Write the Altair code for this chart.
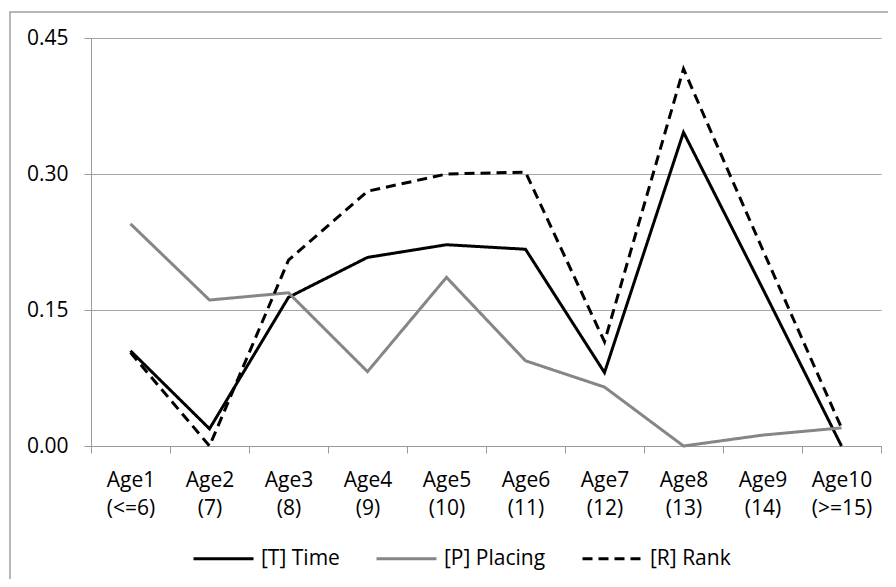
import altair as alt
import pandas as pd

categories = ["Age1 (<=6)", "Age2 (7)", "Age3 (8)", "Age4 (9)", "Age5 (10)",
              "Age6 (11)", "Age7 (12)", "Age8 (13)", "Age9 (14)", "Age10 (>=15)"]
series_names = ["[T] Time", "[P] Placing", "[R] Rank"]
time_vals = [0.105, 0.019, 0.164, 0.208, 0.222, 0.217, 0.081, 0.346, 0.174, 0.0]
placing_vals = [0.245, 0.161, 0.169, 0.082, 0.186, 0.094, 0.065, 0.0, 0.012, 0.020]
rank_vals = [0.103, 0.0, 0.205, 0.281, 0.300, 0.302, 0.115, 0.416, 0.217, 0.020]

rows = []
for name, vals in zip(series_names, [time_vals, placing_vals, rank_vals]):
    for c, v in zip(categories, vals):
        rows.append({"cat": c, "series": name, "value": v})
df = pd.DataFrame(rows)

legend = alt.Legend(
    title=None, orient="none", legendX=101, legendY=489, direction="horizontal",
    symbolType="stroke", symbolSize=3600, symbolStrokeWidth=3,
    labelFontSize=21, labelColor="black", labelOffset=6, columnPadding=30,
    labelFont="Open Sans",
)

lines = alt.Chart(df).mark_line(strokeWidth=3, strokeJoin="miter").encode(
    x=alt.X("cat:N", sort=categories, title=None,
            scale=alt.Scale(paddingInner=0, paddingOuter=0),
            axis=alt.Axis(labelExpr="split(datum.label, ' ')", labelAngle=0,
                          tickBand="extent", tickSize=7, tickColor="#999999",
                          domainColor="#999999", labelFontSize=21, labelColor="black",
                          labelPadding=16, labelLineHeight=28, grid=False,
                          labelBaseline="top")),
    y=alt.Y("value:Q", title=None,
            scale=alt.Scale(domain=[0, 0.45], nice=False),
            axis=alt.Axis(values=[0, 0.15, 0.30, 0.45], format=".2f",
                          tickSize=7, tickColor="#999999", domainColor="#999999",
                          gridColor="#a6a6a6", labelFontSize=21, labelColor="black",
                          labelPadding=16)),
    color=alt.Color("series:N", scale=alt.Scale(domain=series_names,
                    range=["#000000", "#868686", "#000000"]), legend=legend),
    strokeDash=alt.StrokeDash("series:N", scale=alt.Scale(domain=series_names,
                    range=[[1, 0], [1, 0], [10, 6]]), legend=legend),
    order=alt.Order("series:N"),
)

border = alt.Chart(alt.Data(values=[{"a": 1}])).mark_rect(
    fill=None, stroke="#a0a0a0", strokeWidth=1.5, clip=False
).encode(
    x=alt.value(-81), x2=alt.value(830), y=alt.value(-26), y2=alt.value(560)
)

chart = alt.layer(border, lines).properties(
    width=790, height=408,
    autosize=alt.AutoSizeParams(type="none"),
    padding={"left": 83, "top": 30, "right": 7, "bottom": 133},
).configure(font="Open Sans").configure_view(stroke=None)

chart.save("out.html", embed_options={"renderer": "svg", "actions": False})
